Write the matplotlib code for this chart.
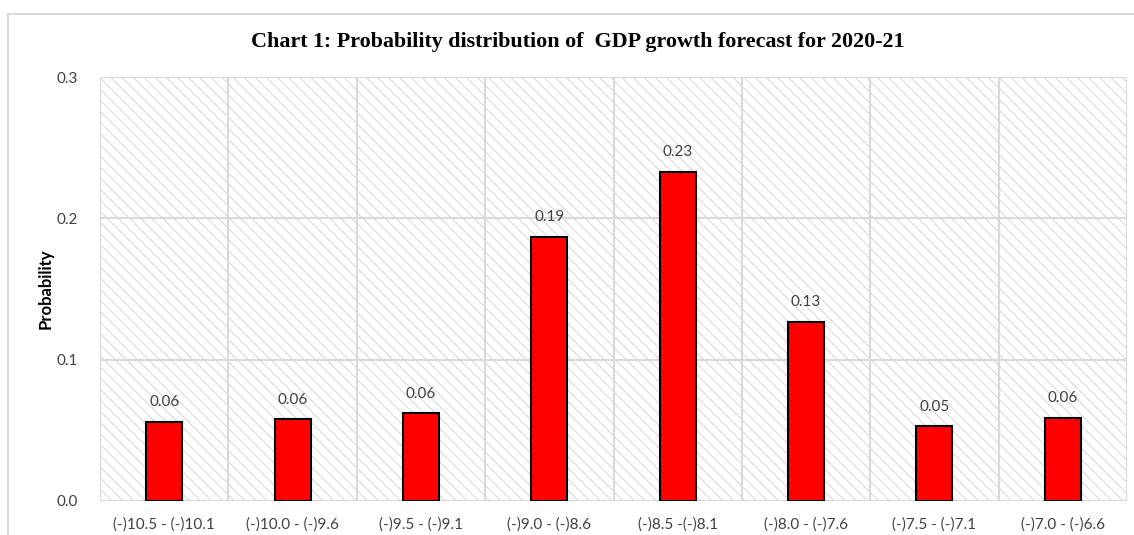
import matplotlib.pyplot as plt
from matplotlib.patches import Rectangle

# Data
categories = ["(-)10.5 - (-)10.1", "(-)10.0 - (-)9.6", "(-)9.5 - (-)9.1", "(-)9.0 - (-)8.6",
              "(-)8.5 -(-)8.1", "(-)8.0 - (-)7.6", "(-)7.5 - (-)7.1", "(-)7.0 - (-)6.6"]
probability = [0.056, 0.058, 0.062, 0.187, 0.233, 0.127, 0.053, 0.059]
bar_labels = ["0.06", "0.06", "0.06", "0.19", "0.23", "0.13", "0.05", "0.06"]
yticks = [0.0, 0.1, 0.2, 0.3]

plt.rcParams['font.family'] = ['Lato', 'DejaVu Sans']
plt.rcParams['hatch.linewidth'] = 0.7

grey = "#d9d9d9"
text_col = "#404040"

fig = plt.figure(figsize=(11.34, 5.35), dpi=100)
# outer chart border
fig.patches.append(Rectangle((8/1134, -0.05), 1.2, 1 - 14/535 + 0.05, transform=fig.transFigure,
                             facecolor="none", edgecolor=grey, linewidth=1.5))

ax = fig.add_axes([100/1134, 1 - 501/535, 1027/1134, 424/535])
ax.set_xlim(-0.5, len(categories) - 0.5)
ax.set_ylim(0, 0.3)

# hatched plot area
ax.add_patch(Rectangle((0, 0), 1, 1, transform=ax.transAxes, facecolor="white",
                       edgecolor="#d6d6d6", hatch="\\\\\\", linewidth=0, zorder=0))

for y in yticks:
    ax.axhline(y, color=grey, linewidth=1.5, zorder=1)
for i in range(len(categories) + 1):
    ax.axvline(i - 0.5, color=grey, linewidth=1.5, zorder=1)

x = range(len(categories))
ax.bar(x, probability, width=0.28, color="#ff0000", edgecolor="black", linewidth=1.5, zorder=3)
for xi, v, lab in zip(x, probability, bar_labels):
    ax.annotate(lab, (xi, v), xytext=(0, 9), textcoords="offset points",
                ha="center", va="bottom", fontsize=11, color=text_col)

for s in ax.spines.values():
    s.set_visible(False)
ax.set_xticks(list(x))
ax.set_xticklabels(categories, fontsize=11, color=text_col)
ax.set_yticks(yticks)
ax.set_yticklabels([f"{t:.1f}" for t in yticks], fontsize=11, color=text_col)
ax.tick_params(length=0, pad=12)
ax.tick_params(axis='y', pad=16)
ax.set_ylabel("Probability", fontsize=12, fontweight="bold", color="black", labelpad=2)

fig.text(578/1134, 1 - 42/535, "Chart 1: Probability distribution of  GDP growth forecast for 2020-21",
         ha="center", va="center", fontsize=15.8, fontweight="bold", family=["Liberation Serif"])

fig.savefig("out.png", dpi=100)
